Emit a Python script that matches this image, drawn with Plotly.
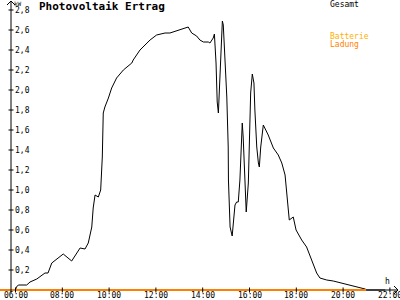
import plotly.graph_objects as go

# ---- data (hours of day, kW) ----
gesamt_hours = [6.00, 6.04, 6.12, 6.48, 6.62, 6.91, 7.26, 7.39, 7.55, 7.83, 8.04, 8.40, 8.76, 8.97,
                9.11, 9.26, 9.32, 9.40, 9.54, 9.64, 9.71, 9.75, 9.82, 9.97, 10.11, 10.32, 10.61,
                10.97, 11.03, 11.32, 11.75, 12.03, 12.39, 12.60, 12.89, 13.38, 13.53, 13.74, 13.88,
                14.03, 14.24, 14.31, 14.45, 14.50, 14.57, 14.62, 14.67, 14.77, 14.84, 14.88, 14.95,
                15.03, 15.09, 15.10, 15.17, 15.26, 15.31, 15.38, 15.45, 15.52, 15.59, 15.69, 15.73,
                15.81, 15.86, 15.95, 16.02, 16.05, 16.12, 16.19, 16.23, 16.31, 16.38, 16.42, 16.48,
                16.59, 16.80, 17.02, 17.23, 17.38, 17.52, 17.59, 17.66, 17.70, 17.87, 17.99, 18.23,
                18.44, 18.66, 18.87, 19.01, 19.30, 19.58, 19.94, 20.29, 20.65, 20.94, 21.01, 21.80]
gesamt_kw = [0.00, 0.03, 0.05, 0.05, 0.08, 0.11, 0.17, 0.17, 0.27, 0.32, 0.36, 0.29, 0.42, 0.41,
             0.47, 0.63, 0.82, 0.95, 0.93, 1.00, 1.33, 1.77, 1.83, 1.92, 2.02, 2.12, 2.20,
             2.27, 2.30, 2.40, 2.50, 2.55, 2.57, 2.57, 2.59, 2.63, 2.57, 2.54, 2.50,
             2.48, 2.48, 2.47, 2.52, 2.56, 2.27, 1.88, 1.77, 2.30, 2.69, 2.65, 2.30,
             1.93, 1.43, 1.10, 0.63, 0.54, 0.67, 0.85, 0.88, 0.88, 1.10, 1.67, 1.53,
             1.00, 0.78, 1.07, 1.60, 1.97, 2.16, 2.07, 1.80, 1.43, 1.27, 1.23, 1.43,
             1.65, 1.55, 1.42, 1.35, 1.27, 1.15, 0.93, 0.80, 0.70, 0.73, 0.60, 0.50,
             0.43, 0.30, 0.17, 0.12, 0.10, 0.09, 0.07, 0.05, 0.03, 0.01, 0.00, 0.00]

batterie_hours = [5.34, 20.98]
batterie_kw = [0.0, 0.0]

x_tick_hours = [6, 8, 10, 12, 14, 16, 18, 20, 22]
x_tick_labels = ["06:00", "08:00", "10:00", "12:00", "14:00", "16:00", "18:00", "20:00", "22:00"]
y_tick_values = [0.2, 0.4, 0.6, 0.8, 1.0, 1.2, 1.4, 1.6, 1.8, 2.0, 2.2, 2.4, 2.6, 2.8]
y_tick_labels = ["0,2", "0,4", "0,6", "0,8", "1,0", "1,2", "1,4", "1,6", "1,8", "2,0", "2,2",
                 "2,4", "2,6", "2,8"]

# ---- geometry ----
W, H = 400, 300
X_RANGE = [5.3376, 22.4316]
Y_RANGE = [-0.10, 2.90]
AXIS_X_PX = 11
AXIS_Y_PX = 290
MONO = "DejaVu Sans Mono"


def px(x):
    return x / W


def py(y):
    return 1 - y / H


fig = go.Figure()
fig.add_trace(go.Scatter(x=gesamt_hours, y=gesamt_kw, mode="lines",
                         line=dict(color="black", width=1), name="Gesamt",
                         showlegend=False, cliponaxis=False))
fig.add_trace(go.Scatter(x=batterie_hours, y=batterie_kw, mode="lines",
                         line=dict(color="#FF8000", width=2), name="Batterie Ladung",
                         showlegend=False, cliponaxis=False))

shapes = []
# x-axis line + arrow
shapes.append(dict(type="line", xref="paper", yref="paper", x0=px(0), x1=px(398),
                   y0=py(AXIS_Y_PX), y1=py(AXIS_Y_PX), line=dict(color="black", width=1), layer="below"))
shapes.append(dict(type="path", xref="paper", yref="paper",
                   path=f"M {px(394)} {py(286)} L {px(398)} {py(290)} L {px(394)} {py(294)}",
                   line=dict(color="black", width=1)))
# y-axis line + arrow
shapes.append(dict(type="line", xref="paper", yref="paper", x0=px(AXIS_X_PX), x1=px(AXIS_X_PX),
                   y0=py(AXIS_Y_PX + 3), y1=py(1), line=dict(color="black", width=1)))
shapes.append(dict(type="path", xref="paper", yref="paper",
                   path=f"M {px(7)} {py(5)} L {px(11)} {py(1)} L {px(15)} {py(5)}",
                   line=dict(color="black", width=1)))
# y ticks
for v in y_tick_values:
    shapes.append(dict(type="line", xref="paper", yref="y", x0=px(8.5), x1=px(13.5),
                       y0=v, y1=v, line=dict(color="black", width=1)))
# x ticks
for h in x_tick_hours:
    shapes.append(dict(type="line", xref="x", yref="paper", x0=h, x1=h,
                       y0=py(287.5), y1=py(292.5), line=dict(color="black", width=1)))

annotations = []
for v, t in zip(y_tick_values, y_tick_labels):
    annotations.append(dict(x=px(13), y=v, xref="paper", yref="y", text=t, showarrow=False,
                            xanchor="left", yanchor="middle",
                            font=dict(family=MONO, size=8, color="black")))
for h, t in zip(x_tick_hours, x_tick_labels):
    annotations.append(dict(x=h, y=py(295.5), xref="x", yref="paper", text=t, showarrow=False,
                            xanchor="center", yanchor="middle",
                            font=dict(family=MONO, size=8, color="black")))
annotations += [
    dict(x=px(12), y=py(4), xref="paper", yref="paper", text="kW", showarrow=False,
         xanchor="left", yanchor="middle", font=dict(family=MONO, size=6, color="black")),
    dict(x=px(383), y=py(281), xref="paper", yref="paper", text="h", showarrow=False,
         xanchor="left", yanchor="middle", font=dict(family=MONO, size=8, color="black")),
    dict(x=px(37), y=py(7), xref="paper", yref="paper", text="<b>Photovoltaik Ertrag</b>",
         showarrow=False, xanchor="left", yanchor="middle",
         font=dict(family=MONO, size=11, color="black")),
    dict(x=px(328), y=py(4.5), xref="paper", yref="paper", text="Gesamt", showarrow=False,
         xanchor="left", yanchor="middle", font=dict(family=MONO, size=8, color="black")),
    dict(x=px(328), y=py(36), xref="paper", yref="paper", text="Batterie", showarrow=False,
         xanchor="left", yanchor="middle", font=dict(family=MONO, size=8, color="#FFB000")),
    dict(x=px(328), y=py(44.5), xref="paper", yref="paper", text="Ladung", showarrow=False,
         xanchor="left", yanchor="middle", font=dict(family=MONO, size=8, color="#FF8000")),
]

fig.update_layout(
    width=W, height=H, margin=dict(l=0, r=0, t=0, b=0),
    paper_bgcolor="white", plot_bgcolor="white",
    xaxis=dict(range=X_RANGE, visible=False, fixedrange=True),
    yaxis=dict(range=Y_RANGE, visible=False, fixedrange=True),
    shapes=shapes, annotations=annotations, showlegend=False,
)

fig.write_html("out.html")
